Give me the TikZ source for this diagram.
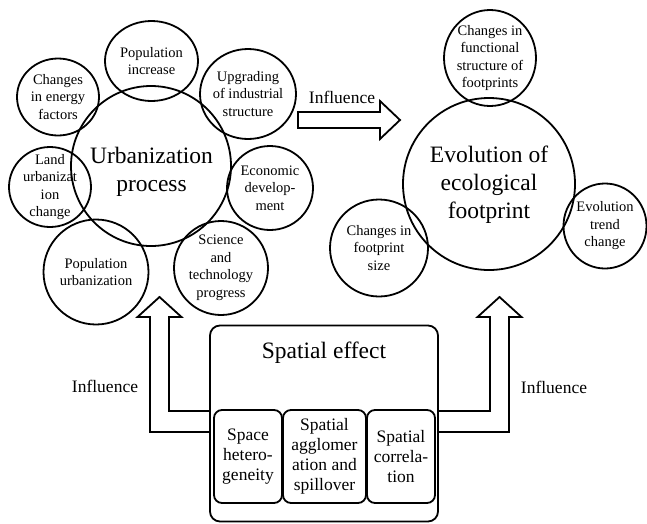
\documentclass[tikz,border=0pt]{standalone}
\usepackage{fontspec}
\setmainfont{Liberation Serif}
\newfontfamily\figfont{Liberation Serif}
\usepackage{tikz}
\usetikzlibrary{shapes, arrows.meta, positioning}
\tikzset{
  bubble/.style={ellipse, draw=black, line width=1.8pt,
                 inner sep=-12pt, align=center,
                 font=\figfont\fontsize{14.5}{17.5}\selectfont},
  bigbubble/.style={circle, draw=black, line width=1.8pt,
                    inner sep=0pt},
  bigtext/.style={inner sep=0pt, align=center,
                  font=\figfont\fontsize{23.5}{28}\selectfont},
  effbox/.style={rectangle, rounded corners=10pt, draw=black,
                 line width=1.8pt, inner sep=0pt},
  subbox/.style={rectangle, rounded corners=8pt, draw=black,
                 line width=1.8pt, inner sep=0pt, minimum height=93pt,
                 align=center, font=\figfont\fontsize{17.5}{20}\selectfont},
  infl/.style={inner sep=0pt, font=\figfont\fontsize{17.5}{20}\selectfont},
  blockarrow/.style={draw=black, line width=1.8pt, line join=miter},
}

\begin{document}
\begin{tikzpicture}[x=1pt, y=-1pt]
    \fill[white] (0,0) rectangle (647,523);
    \useasboundingbox (0,0) rectangle (647,523);
    %% urbanization cluster
    \node[bigbubble, minimum size=160pt] (urban) at (151,166) {};
    \node[bigtext] (urbanT) at (151.5,172) {Urbanization\\process};
    \foreach \name/\x/\y/\w/\h/\txt in {
        popinc/151.5/61/93/80/{Population\\increase},
        energy/58/97/82/77/{Changes\\in energy\\factors},
        upgrade/248/94/96/90/{Upgrading\\of industrial\\structure},
        econ/270/188/86/84/{Economic\\develop-\\ment},
        landurb/50/187/82/80/{Land\\urbanizat\\ion\\change},
        popurb/96/272/105/105/{Population\\urbanization},
        scitech/221/268/94/94/{Science\\and\\technology\\progress}}{
      \node[bubble, minimum width=\w pt, minimum height=\h pt] (\name) at (\x,\y) {\txt};
    }
    %% ecological footprint cluster
    \node[bigbubble, minimum size=172pt] (evol) at (489,184) {};
    \node[bigtext] (evolT) at (489,185) {Evolution of\\ecological\\footprint};
    \foreach \name/\x/\y/\w/\h/\txt in {
        funcstr/490/58/92/96/{Changes in\\functional\\structure of\\footprints},
        fpsize/379/248/98/97/{Changes in\\footprint\\size},
        trend/605/226/83/85/{Evolution\\trend\\change}}{
      \node[bubble, minimum width=\w pt, minimum height=\h pt] (\name) at (\x,\y) {\txt};
    }
    %% spatial effect box
    \node[effbox, minimum width=228pt, minimum height=196pt] (effect) at (324,423.5) {};
    \node[bigtext] (sptitle) at (324,353) {Spatial effect};
    \node[subbox, minimum width=68pt] (hetero) at (248,456.5) {Space\\hetero-\\geneity};
    \node[subbox, minimum width=83pt] (agglo) at (324.5,456.5) {Spatial\\agglomer\\ation and\\spillover};
    \node[subbox, minimum width=68pt] (correl) at (401,456.5) {Spatial\\correla-\\tion};
    %% hollow arrows
    \coordinate (tipH) at (400,120);
    \coordinate (tipL) at (159.5,297);
    \coordinate (tipR) at (499.5,297);
    \draw[blockarrow] (298,112) -- (380,112) -- (380,101) -- (tipH)
      -- (380,139) -- (380,128) -- (298,128) -- cycle;
    \draw[blockarrow] ([yshift=12.5pt]effect.west) -- (169,411) -- (169,317)
      -- (181.5,317) -- (tipL) -- (137.5,317) -- (150,317) -- (150,432)
      -- ([yshift=-8.5pt]effect.west);
    \draw[blockarrow] ([yshift=12.5pt]effect.east) -- (490,411) -- (490,317)
      -- (477.5,317) -- (tipR) -- (521.5,317) -- (509,317) -- (509,432)
      -- ([yshift=-8.5pt]effect.east);
    %% labels
    \node[infl] (inflH) at (342,97) {Influence};
    \node[infl] (inflL) at (105,386) {Influence};
    \node[infl] (inflR) at (554,387) {Influence};
\end{tikzpicture}
\end{document}
